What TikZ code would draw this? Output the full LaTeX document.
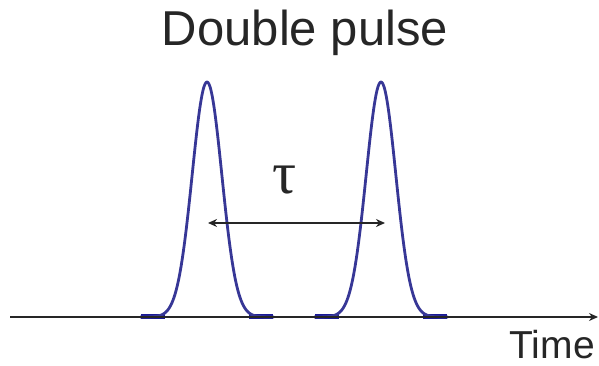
\documentclass[tikz,border=0pt]{standalone}
\usepackage{fontspec}
\setmainfont{Liberation Sans}
\newfontfamily\greekfont{Liberation Serif}
\usetikzlibrary{arrows.meta}
\definecolor{pulseblue}{RGB}{55,55,150}
\definecolor{footblue}{RGB}{25,25,150}
\tikzset{
  pulse/.style={draw=pulseblue, line width=2.8pt, line join=round},
  foot/.style={draw=footblue, line width=4.5pt},
  axisline/.style={draw=black!85, line width=2.8pt, -{Stealth[length=9pt,width=8pt]}},
  delay/.style={draw=black!85, line width=2.2pt, {Stealth[length=9pt,width=8pt]}-{Stealth[length=9pt,width=8pt]}},
  label/.style={inner sep=0pt, text=black!85}
}
\begin{document}
\begin{tikzpicture}[x=1pt,y=1pt]
\useasboundingbox (0,0) rectangle (599,366);
% pulses
\foreach \c in {207,381}{
  \draw[foot] (\c-66,49.5) -- (\c-42,49.5);
  \draw[foot] (\c+42,49.5) -- (\c+66,49.5);
  \draw[pulse] plot[domain=-67:67, samples=120, smooth] ({\c+\x},{49+235*exp(-\x*\x/(2*14.8*14.8))});
}
% axis
\coordinate (ax0) at (10,49);
\coordinate (ax1) at (598,49);
\draw[axisline] (ax0) -- (ax1);
% delay arrow
\coordinate (p1) at (208,143);
\coordinate (p2) at (385,143);
\draw[delay] (p1) -- (p2);
% labels
\node[label, font=\fontsize{49}{52}\selectfont] (title) at (305,333) {Double pulse};
\node[label, font=\fontsize{39}{42}\selectfont, anchor=base east] (time) at (595,7) {Time};
\node[label, font=\greekfont\fontsize{60}{60}\selectfont] (tau) at (285,186) {τ};
\end{tikzpicture}
\end{document}
